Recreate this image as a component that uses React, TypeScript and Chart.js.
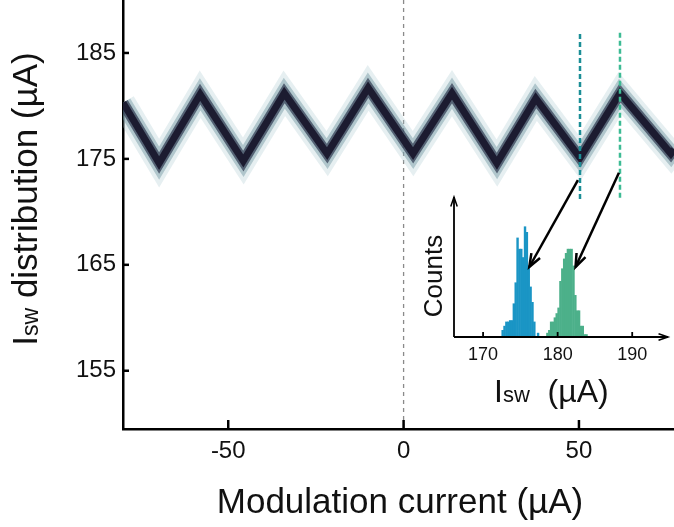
import React, { useEffect, useRef } from "react";
import { Chart, registerables } from "chart.js";

Chart.register(...registerables);

const FONT = '"Liberation Sans", Arial, Helvetica, sans-serif';
const NARROW = '"Liberation Sans Narrow", "Liberation Sans", Arial, sans-serif';

// ---- main panel: centre of the switching-current distribution (zig-zag) ----
const modulationCurrent = [-80, -69.7, -58.0, -45.7, -34.0, -21.8, -10.1, 2.7, 13.8, 26.6, 37.7, 50.3, 61.7, 76.2, 77.1];
const iswCentre = [180.3, 174.6, 181.1, 174.8, 181.2, 175.5, 181.7, 175.5, 181.2, 174.6, 180.7, 175.1, 181.2, 175.5, 175.9];
const xTickValues = [-50, 0, 50];
const yTickValues = [155, 165, 175, 185];
const xRange = [-80, 77.1];
const yRange = [149.5, 190];

// reference lines
const zeroLineX = [0, 0];
const zeroLineY = [190, 149.5];
const cutBlueX = [50.3, 50.3];
const cutBlueY = [186.8, 171.1];
const cutGreenX = [61.7, 61.7];
const cutGreenY = [186.9, 171.1];

// arrows: start in main-panel data, end in inset data
const arrowStartX = [49.7, 61.4];
const arrowStartY = [173.0, 173.7];
const arrowEndX = [176.2, 182.4];
const arrowEndCounts = [50, 50];

// ---- inset histograms ----
const blueBins = [172.625, 172.875, 173.125, 173.375, 173.625, 173.875, 174.125, 174.375, 174.625, 174.875, 175.125, 175.375, 175.625, 175.875, 176.125, 176.375, 176.625, 176.875, 177.375];
const blueCounts = [5, 8, 11, 11, 12, 12, 24, 39, 71, 63, 63, 57, 79, 75, 51, 36, 25, 11, 3];
const greenBins = [178.625, 178.875, 179.125, 179.375, 179.625, 179.875, 180.125, 180.375, 180.625, 180.875, 181.125, 181.375, 181.625, 181.875, 182.125, 182.375, 182.625, 182.875, 183.125, 183.375, 183.625, 183.875];
const greenCounts = [3, 5, 11, 11, 14, 17, 21, 40, 49, 56, 60, 63, 63, 63, 51, 30, 19, 19, 8, 8, 2, 2];
const insetTickValues = [170, 180, 190];
const insetXRange = [166.1, 194.8];
const insetYRange = [0, 100];

const BLUE = "#1a95c5";
const GREEN = "#4cb08a";

const pts = (xs: number[], ys: number[]) => xs.map((x, i) => ({ x, y: ys[i] }));

type Part = { text: string; size: number; dy?: number };
function drawParts(ctx: CanvasRenderingContext2D, parts: Part[], x: number, y: number, center: boolean) {
  let total = 0;
  const widths = parts.map((p) => {
    ctx.font = `${p.size}px ${FONT}`;
    const w = ctx.measureText(p.text).width;
    total += w;
    return w;
  });
  let cx = center ? x - total / 2 : x;
  ctx.textAlign = "left";
  ctx.textBaseline = "alphabetic";
  parts.forEach((p, i) => {
    ctx.font = `${p.size}px ${FONT}`;
    ctx.fillText(p.text, cx, y + (p.dy || 0));
    cx += widths[i];
  });
}

function arrowHead(ctx: CanvasRenderingContext2D, x1: number, y1: number, x2: number, y2: number, len: number, half: number) {
  const a = Math.atan2(y2 - y1, x2 - x1);
  ctx.beginPath();
  ctx.moveTo(x2 - len * Math.cos(a - half), y2 - len * Math.sin(a - half));
  ctx.lineTo(x2, y2);
  ctx.lineTo(x2 - len * Math.cos(a + half), y2 - len * Math.sin(a + half));
  ctx.stroke();
}

const mainDecor = {
  id: "mainDecor",
  afterDatasetsDraw(chart: any) {
    const { ctx, chartArea, scales } = chart;
    const x = scales.x;
    const y = scales.y;
    ctx.save();
    ctx.strokeStyle = "#000";
    ctx.lineWidth = 2.5;
    yTickValues.forEach((v) => {
      const py = y.getPixelForValue(v);
      ctx.beginPath();
      ctx.moveTo(chartArea.left, py);
      ctx.lineTo(chartArea.left + 6, py);
      ctx.stroke();
    });
    xTickValues.forEach((v) => {
      const px = x.getPixelForValue(v);
      ctx.beginPath();
      ctx.moveTo(px, chartArea.bottom);
      ctx.lineTo(px, chartArea.bottom - 9);
      ctx.stroke();
    });
    ctx.restore();
  },
  afterDraw(chart: any) {
    const { ctx } = chart;
    ctx.save();
    ctx.fillStyle = "#111";
    // x title
    drawParts(ctx, [{ text: "Modulation current (\u00b5A)", size: 35 }], 400, 513, true);
    // y title (rotated)
    ctx.translate(37, 199);
    ctx.rotate(-Math.PI / 2);
    drawParts(
      ctx,
      [
        { text: "I", size: 35 },
        { text: "sw", size: 23, dy: 1 },
        { text: " distribution (\u00b5A)", size: 35 },
      ],
      0,
      0,
      true
    );
    ctx.restore();
  },
};

function makeInsetDecor(main: Chart) {
  return {
    id: "insetDecor",
    afterDraw(chart: any) {
      const { ctx, chartArea, scales } = chart;
      const x = scales.x;
      const y = scales.y;
      ctx.save();
      ctx.strokeStyle = "#000";
      ctx.fillStyle = "#111";
      ctx.lineCap = "butt";
      // axes with arrows
      ctx.lineWidth = 1.8;
      ctx.beginPath();
      ctx.moveTo(chartArea.left, chartArea.bottom);
      ctx.lineTo(chartArea.left, chartArea.top);
      ctx.moveTo(chartArea.left, chartArea.bottom);
      ctx.lineTo(chartArea.right, chartArea.bottom);
      ctx.stroke();
      ctx.lineWidth = 1.5;
      arrowHead(ctx, chartArea.left, chartArea.bottom, chartArea.left, chartArea.top, 10, 0.33);
      arrowHead(ctx, chartArea.left, chartArea.bottom, chartArea.right, chartArea.bottom, 10, 0.33);
      // ticks
      ctx.lineWidth = 1.8;
      insetTickValues.forEach((v) => {
        const px = x.getPixelForValue(v);
        ctx.beginPath();
        ctx.moveTo(px, chartArea.bottom);
        ctx.lineTo(px, chartArea.bottom - 5);
        ctx.stroke();
      });
      // arrows from the cut lines to the histograms
      const mx = main.scales.x;
      const my = main.scales.y;
      ctx.lineWidth = 2.5;
      arrowStartX.forEach((sx, i) => {
        const x1 = mx.getPixelForValue(sx);
        const y1 = my.getPixelForValue(arrowStartY[i]);
        const x2 = x.getPixelForValue(arrowEndX[i]);
        const y2 = y.getPixelForValue(arrowEndCounts[i]);
        ctx.beginPath();
        ctx.moveTo(x1, y1);
        ctx.lineTo(x2, y2);
        ctx.stroke();
        arrowHead(ctx, x1, y1, x2, y2, 14, 0.36);
      });
      // inset titles
      drawParts(
        ctx,
        [
          { text: "I", size: 32 },
          { text: "sw", size: 22 },
          { text: "  (\u00b5A)", size: 32 },
        ],
        494,
        402,
        false
      );
      ctx.translate(442, 276);
      ctx.rotate(-Math.PI / 2);
      ctx.font = `26px ${FONT}`;
      ctx.textAlign = "center";
      ctx.textBaseline = "alphabetic";
      ctx.fillText("Counts", 0, 0);
      ctx.restore();
    },
  };
}

export default function App() {
  const mainRef = useRef<HTMLCanvasElement>(null);
  const insetRef = useRef<HTMLCanvasElement>(null);

  useEffect(() => {
    const band = pts(modulationCurrent, iswCentre);
    const layers = [
      { w: 7, c: "#1c1b30" },
      { w: 11, c: "rgba(45,55,80,0.7)" },
      { w: 17, c: "rgba(110,148,160,0.45)" },
      { w: 25, c: "rgba(165,198,203,0.28)" },
    ];
    const lineBase = { pointRadius: 0, tension: 0, clip: 0, fill: false, borderJoinStyle: "miter" as const };
    const main = new Chart(mainRef.current!, {
      type: "line",
      data: {
        datasets: [
          { ...lineBase, data: pts(cutBlueX, cutBlueY), borderColor: "#1b8e96", borderWidth: 2.5, borderDash: [5, 3] },
          { ...lineBase, data: pts(cutGreenX, cutGreenY), borderColor: "#3dbb94", borderWidth: 2.5, borderDash: [5, 3] },
          ...layers.map((l) => ({ ...lineBase, data: band, borderColor: l.c, borderWidth: l.w })),
          { ...lineBase, data: pts(zeroLineX, zeroLineY), borderColor: "#8a8a8a", borderWidth: 1.3, borderDash: [4, 4] },
        ],
      },
      options: {
        responsive: false,
        animation: false,
        devicePixelRatio: 1,
        events: [],
        layout: { padding: 0 },
        plugins: { legend: { display: false }, tooltip: { enabled: false } },
        scales: {
          x: {
            type: "linear",
            min: xRange[0],
            max: xRange[1],
            offset: false,
            grid: { display: false, drawTicks: false },
            border: { display: true, width: 2.5, color: "#000" },
            ticks: { font: { family: FONT, size: 24 }, color: "#111", padding: 8 },
            afterBuildTicks: (s: any) => {
              s.ticks = xTickValues.map((v) => ({ value: v }));
            },
            afterFit: (s: any) => {
              s.height = 98;
              s.paddingLeft = 0;
              s.paddingRight = 0;
            },
          },
          y: {
            type: "linear",
            min: yRange[0],
            max: yRange[1],
            grid: { display: false, drawTicks: false },
            border: { display: true, width: 2.5, color: "#000" },
            ticks: { font: { family: FONT, size: 24 }, color: "#111", padding: 7 },
            afterBuildTicks: (s: any) => {
              s.ticks = yTickValues.map((v) => ({ value: v }));
            },
            afterFit: (s: any) => {
              s.width = 123;
              s.paddingTop = 0;
              s.paddingBottom = 0;
            },
          },
        },
      },
      plugins: [mainDecor],
    } as any);

    const inset = new Chart(insetRef.current!, {
      type: "bar",
      data: {
        datasets: [
          { data: pts(blueBins, blueCounts), backgroundColor: BLUE, borderWidth: 0, grouped: false, barPercentage: 1.3, categoryPercentage: 1 },
          { data: pts(greenBins, greenCounts), backgroundColor: GREEN, borderWidth: 0, grouped: false, barPercentage: 1.3, categoryPercentage: 1 },
        ],
      },
      options: {
        responsive: false,
        animation: false,
        devicePixelRatio: 1,
        events: [],
        layout: { padding: { left: 454, right: 6, top: 197, bottom: 160 } },
        plugins: { legend: { display: false }, tooltip: { enabled: false } },
        scales: {
          x: {
            type: "linear",
            min: insetXRange[0],
            max: insetXRange[1],
            offset: false,
            grid: { display: false, drawTicks: false, offset: false },
            border: { display: false },
            ticks: { font: { family: NARROW, size: 18 }, color: "#111", padding: 7 },
            afterBuildTicks: (s: any) => {
              s.ticks = insetTickValues.map((v) => ({ value: v }));
            },
            afterFit: (s: any) => {
              s.height = 30;
              s.paddingLeft = 0;
              s.paddingRight = 0;
            },
          },
          y: {
            type: "linear",
            min: insetYRange[0],
            max: insetYRange[1],
            display: false,
          },
        },
      },
      plugins: [makeInsetDecor(main)],
    } as any);

    return () => {
      inset.destroy();
      main.destroy();
    };
  }, []);

  return (
    <div style={{ position: "fixed", left: 0, top: 0, width: 674, height: 527, background: "#fff" }}>
      <canvas ref={mainRef} width={674} height={527} style={{ position: "absolute", left: 0, top: 0 }} />
      <canvas
        ref={insetRef}
        width={674}
        height={527}
        style={{ position: "absolute", left: 0, top: 0, pointerEvents: "none" }}
      />
    </div>
  );
}
